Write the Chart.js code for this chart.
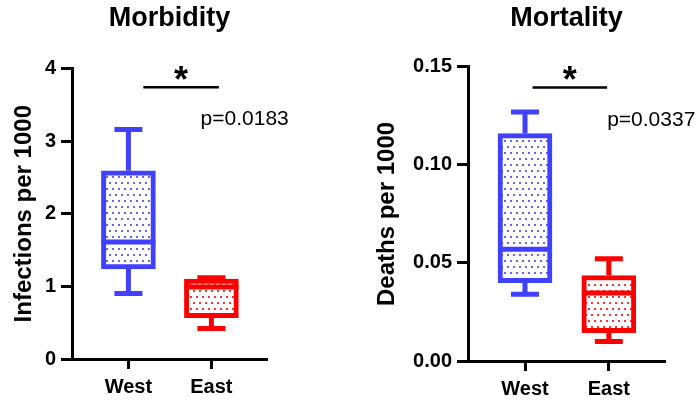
<!DOCTYPE html>
<html>
<head>
<meta charset="utf-8">
<script src="https://cdn.jsdelivr.net/npm/chart.js@4.4.1/dist/chart.umd.min.js"></script>
<style>
  html, body { margin: 0; padding: 0; background: #fff; }
  #wrap { display: flex; width: 700px; height: 402px; }
  canvas { display: block; }
</style>
</head>
<body>
<div id="wrap">
  <canvas id="morbidity" width="350" height="402"></canvas>
  <canvas id="mortality" width="350" height="402"></canvas>
</div>
<script>
// groups on the x axis
var groups = ['West', 'East'];

// box stats: [min, q1, median, q3, max]
var morbWest = [0.90, 1.24, 1.61, 2.59, 3.16];
var morbEast = [0.42, 0.57, 0.99, 1.10, 1.12];
var mortWest = [0.034, 0.040, 0.057, 0.116, 0.127];
var mortEast = [0.010, 0.0145, 0.0347, 0.0436, 0.0522];

// significance: [x from, x to, y]
var morbBracket = [0.18, 1.09, 3.74];
var mortBracket = [0.09, 0.98, 0.1395];
// p value label: [x, y, text]
var morbP = [0.87, 3.22, 'p=0.0183'];
var mortP = [0.98, 0.120, 'p=0.0337'];

var BLUE = '#4040ff';
var RED = '#ff0000';
Chart.defaults.font.family = "'Liberation Sans', Arial, sans-serif";
Chart.defaults.color = '#000';

// dotted fill like the prism boxes
function dotPattern(color) {
  var c = document.createElement('canvas');
  c.width = 6; c.height = 12;
  var g = c.getContext('2d');
  g.fillStyle = '#fff';
  g.fillRect(0, 0, 6, 12);
  g.fillStyle = color;
  g.globalAlpha = 0.8;
  g.fillRect(1, 2, 2, 2);
  g.fillRect(4, 8, 2, 2);
  return g.createPattern(c, 'repeat');
}

var boxPlugin = {
  id: 'boxExtras',
  beforeDatasetsDraw: function (chart, args, opts) {
    var ctx = chart.ctx, xs = chart.scales.x, ys = chart.scales.y;
    ctx.save();
    ctx.lineWidth = 5;
    opts.stats.forEach(function (s, i) {
      var x = xs.getPixelForValue(i);
      ctx.strokeStyle = opts.colors[i];
      ctx.beginPath();
      ctx.moveTo(x, ys.getPixelForValue(s[3]));
      ctx.lineTo(x, ys.getPixelForValue(s[4]));
      ctx.moveTo(x, ys.getPixelForValue(s[1]));
      ctx.lineTo(x, ys.getPixelForValue(s[0]));
      ctx.moveTo(x - 14, ys.getPixelForValue(s[4]));
      ctx.lineTo(x + 14, ys.getPixelForValue(s[4]));
      ctx.moveTo(x - 14, ys.getPixelForValue(s[0]));
      ctx.lineTo(x + 14, ys.getPixelForValue(s[0]));
      ctx.stroke();
    });
    ctx.restore();
  },
  afterDatasetsDraw: function (chart, args, opts) {
    var ctx = chart.ctx, xs = chart.scales.x, ys = chart.scales.y;
    var bars = chart.getDatasetMeta(0).data;
    ctx.save();
    // medians
    ctx.lineWidth = 5;
    opts.stats.forEach(function (s, i) {
      var x = xs.getPixelForValue(i), w = bars[i].width / 2;
      var y = ys.getPixelForValue(s[2]);
      ctx.strokeStyle = opts.colors[i];
      ctx.beginPath();
      ctx.moveTo(x - w, y);
      ctx.lineTo(x + w, y);
      ctx.stroke();
    });
    // bracket + star
    var b = opts.bracket;
    var x1 = xs.getPixelForValue(b[0]), x2 = xs.getPixelForValue(b[1]);
    var yb = ys.getPixelForValue(b[2]);
    ctx.strokeStyle = '#000';
    ctx.lineWidth = 2.6;
    ctx.beginPath();
    ctx.moveTo(x1, yb);
    ctx.lineTo(x2, yb);
    ctx.stroke();
    ctx.fillStyle = '#000';
    ctx.font = "bold 36px 'Liberation Sans', Arial";
    ctx.textAlign = 'center';
    ctx.textBaseline = 'alphabetic';
    ctx.fillText('*', (x1 + x2) / 2, yb + 5);
    // p value
    var p = opts.pText;
    ctx.font = "21px 'Liberation Sans', Arial";
    ctx.textAlign = 'left';
    ctx.fillText(p[2], xs.getPixelForValue(p[0]), ys.getPixelForValue(p[1]));
    ctx.restore();
  }
};

function makeChart(id, cfg) {
  var ctx = document.getElementById(id).getContext('2d');
  var stats = cfg.stats;
  return new Chart(ctx, {
    type: 'bar',
    data: {
      datasets: [{
        data: stats.map(function (s, i) { return { x: i, y: [s[1], s[3]] }; }),
        backgroundColor: [dotPattern(BLUE), dotPattern(RED)],
        borderColor: [BLUE, RED],
        borderWidth: 5,
        borderSkipped: false,
        barThickness: 54
      }]
    },
    options: {
      responsive: false,
      animation: false,
      layout: { padding: { left: cfg.padLeft, right: cfg.padRight, top: 0, bottom: 0 } },
      plugins: {
        legend: { display: false },
        tooltip: { enabled: false },
        title: {
          display: true,
          text: cfg.title,
          fullSize: false,
          font: { size: 27, weight: 'bold' },
          color: '#000',
          padding: { top: 2, bottom: cfg.titleGap }
        },
        boxExtras: {
          stats: stats,
          colors: [BLUE, RED],
          bracket: cfg.bracket,
          pText: cfg.pText
        }
      },
      scales: {
        x: {
          type: 'linear',
          min: -0.68,
          max: 1.67,
          offset: false,
          afterBuildTicks: function (scale) {
            scale.ticks = groups.map(function (g, i) { return { value: i }; });
          },
          afterFit: function (scale) { scale.height = cfg.xHeight; },
          ticks: {
            callback: function (v) { return groups[v]; },
            font: { size: 20, weight: 'bold' },
            color: '#000',
            padding: 6,
            maxRotation: 0
          },
          grid: { display: true, drawOnChartArea: false, drawTicks: true, tickLength: 10, tickWidth: 3, tickColor: '#000', offset: false },
          border: { display: true, color: '#000', width: 3 }
        },
        y: {
          min: 0,
          max: cfg.yMax,
          afterFit: function (scale) { scale.width = cfg.yWidth; },
          ticks: {
            stepSize: cfg.step,
            callback: cfg.fmt,
            font: { size: 20, weight: 'bold' },
            color: '#000',
            padding: 5
          },
          title: {
            display: true,
            text: cfg.yTitle,
            font: { size: 24, weight: 'bold' },
            color: '#000',
            padding: { top: cfg.yTitlePad, bottom: 0 }
          },
          grid: { display: true, drawOnChartArea: false, drawTicks: true, tickLength: 11, tickWidth: 3, tickColor: '#000' },
          border: { display: true, color: '#000', width: 3 }
        }
      }
    },
    plugins: [boxPlugin]
  });
}

makeChart('morbidity', {
  title: 'Morbidity',
  yTitle: 'Infections per 1000',
  stats: [morbWest, morbEast],
  bracket: morbBracket,
  pText: morbP,
  yMax: 4,
  step: 1,
  fmt: function (v) { return v; },
  padLeft: 0,
  padRight: 83,
  yWidth: 72,
  yTitlePad: 10,
  titleGap: 34,
  xHeight: 43
});

makeChart('mortality', {
  title: 'Mortality',
  yTitle: 'Deaths per 1000',
  stats: [mortWest, mortEast],
  bracket: mortBracket,
  pText: mortP,
  yMax: 0.15,
  step: 0.05,
  fmt: function (v) { return v.toFixed(2); },
  padLeft: 0,
  padRight: 35,
  yWidth: 118,
  yTitlePad: 23,
  titleGap: 32.5,
  xHeight: 41
});
</script>
</body>
</html>
